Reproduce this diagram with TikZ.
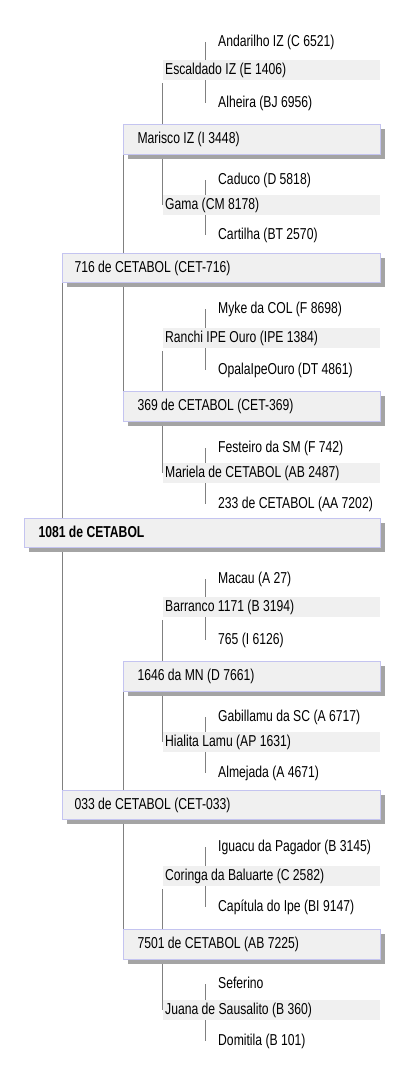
\documentclass[tikz,border=0pt]{standalone}
\usepackage{fontspec}
\setmainfont[FakeStretch=0.77]{Liberation Sans}
\usetikzlibrary{shadows,backgrounds}
\definecolor{boxfill}{HTML}{F0F0F0}
\definecolor{boxline}{HTML}{C4C4F0}
\definecolor{shadowgray}{HTML}{A4A4A4}
\definecolor{linkgray}{HTML}{808080}
\begin{document}
\begin{tikzpicture}[x=1pt,y=-1pt,
every node/.style={font=\fontsize{15.8}{18}\selectfont,text height=11.5pt,text depth=3.5pt,inner ysep=0pt,align=flush left},
box/.style={draw=boxline,fill=boxfill,line width=1pt,anchor=north west,minimum height=#1,drop shadow={shadow xshift=4pt,shadow yshift=-4pt,fill=shadowgray,opacity=1}},
strip/.style={fill=boxfill,anchor=north west,minimum height=20pt,inner xsep=2pt,text width=213pt},
leaf/.style={anchor=base west,inner xsep=0pt},
link/.style={draw=linkgray,line width=.9pt}]
\useasboundingbox (0,0) rectangle (403,1077);
\node[box=29pt,inner xsep=14pt,text width=328pt,font=\fontsize{15.8}{18}\selectfont\bfseries] (root) at (24,518) {1081 de CETABOL};
\node[box=29pt,inner xsep=12pt,text width=294pt] (cet716) at (62,253) {716 de CETABOL (CET-716)};
\node[box=29pt,inner xsep=12pt,text width=294pt] (cet033) at (62,790) {033 de CETABOL (CET-033)};
\node[box=30pt,inner xsep=14pt,text width=229pt] (marisco) at (123,124) {Marisco IZ (I 3448)};
\node[box=30pt,inner xsep=14pt,text width=229pt] (cet369) at (123,391) {369 de CETABOL (CET-369)};
\node[box=30pt,inner xsep=14pt,text width=229pt] (mn1646) at (123,661) {1646 da MN (D 7661)};
\node[box=30pt,inner xsep=14pt,text width=229pt] (cet7501) at (123,929) {7501 de CETABOL (AB 7225)};
\foreach \n/\y/\t in {escaldado/60/{Escaldado IZ (E 1406)},gama/195/{Gama (CM 8178)},ranchi/328/{Ranchi IPE Ouro (IPE 1384)},mariela/463/{Mariela de CETABOL (AB 2487)},barranco/597/{Barranco 1171 (B 3194)},hialita/732/{Hialita Lamu (AP 1631)},coringa/866/{Coringa da Baluarte (C 2582)},juana/1000/{Juana de Sausalito (B 360)}}
\node[strip] (\n) at (163,\y) {\t};
\foreach \n/\y/\t in {andarilho/46/{Andarilho IZ (C 6521)},alheira/107/{Alheira (BJ 6956)},caduco/184/{Caduco (D 5818)},cartilha/239/{Cartilha (BT 2570)},myke/313/{Myke da COL (F 8698)},opala/374/{OpalaIpeOuro (DT 4861)},festeiro/452/{Festeiro da SM (F 742)},cet233/508/{233 de CETABOL (AA 7202)},macau/583/{Macau (A 27)},i765/644/{765 (I 6126)},gabillamu/721/{Gabillamu da SC (A 6717)},almejada/777/{Almejada (A 4671)},iguacu/851/{Iguacu da Pagador (B 3145)},capitula/911/{Capítula do Ipe (BI 9147)},seferino/988/{Seferino},domitila/1045/{Domitila (B 101)}}
\node[leaf] (\n) at (218,\y) {\t};
\begin{scope}[on background layer]
\draw[link] (cet716.south west) -- (cet033.north west);
\draw[link] (marisco.south west) -- (cet369.north west);
\draw[link] (mn1646.south west) -- (cet7501.north west);
\foreach \a/\b in {escaldado/gama,ranchi/mariela,barranco/hialita,coringa/juana}
\draw[link] ([xshift=-1pt,yshift=-3pt]\a.south west) -- ([xshift=-1pt]\b.west);
\foreach \a/\b in {andarilho/alheira,caduco/cartilha,myke/opala,festeiro/cet233,macau/i765,gabillamu/almejada,iguacu/capitula,seferino/domitila}
\draw[link] ([xshift=-12.5pt]\a.west) -- ([xshift=-12.5pt]\b.west);
\end{scope}
\end{tikzpicture}
\end{document}
